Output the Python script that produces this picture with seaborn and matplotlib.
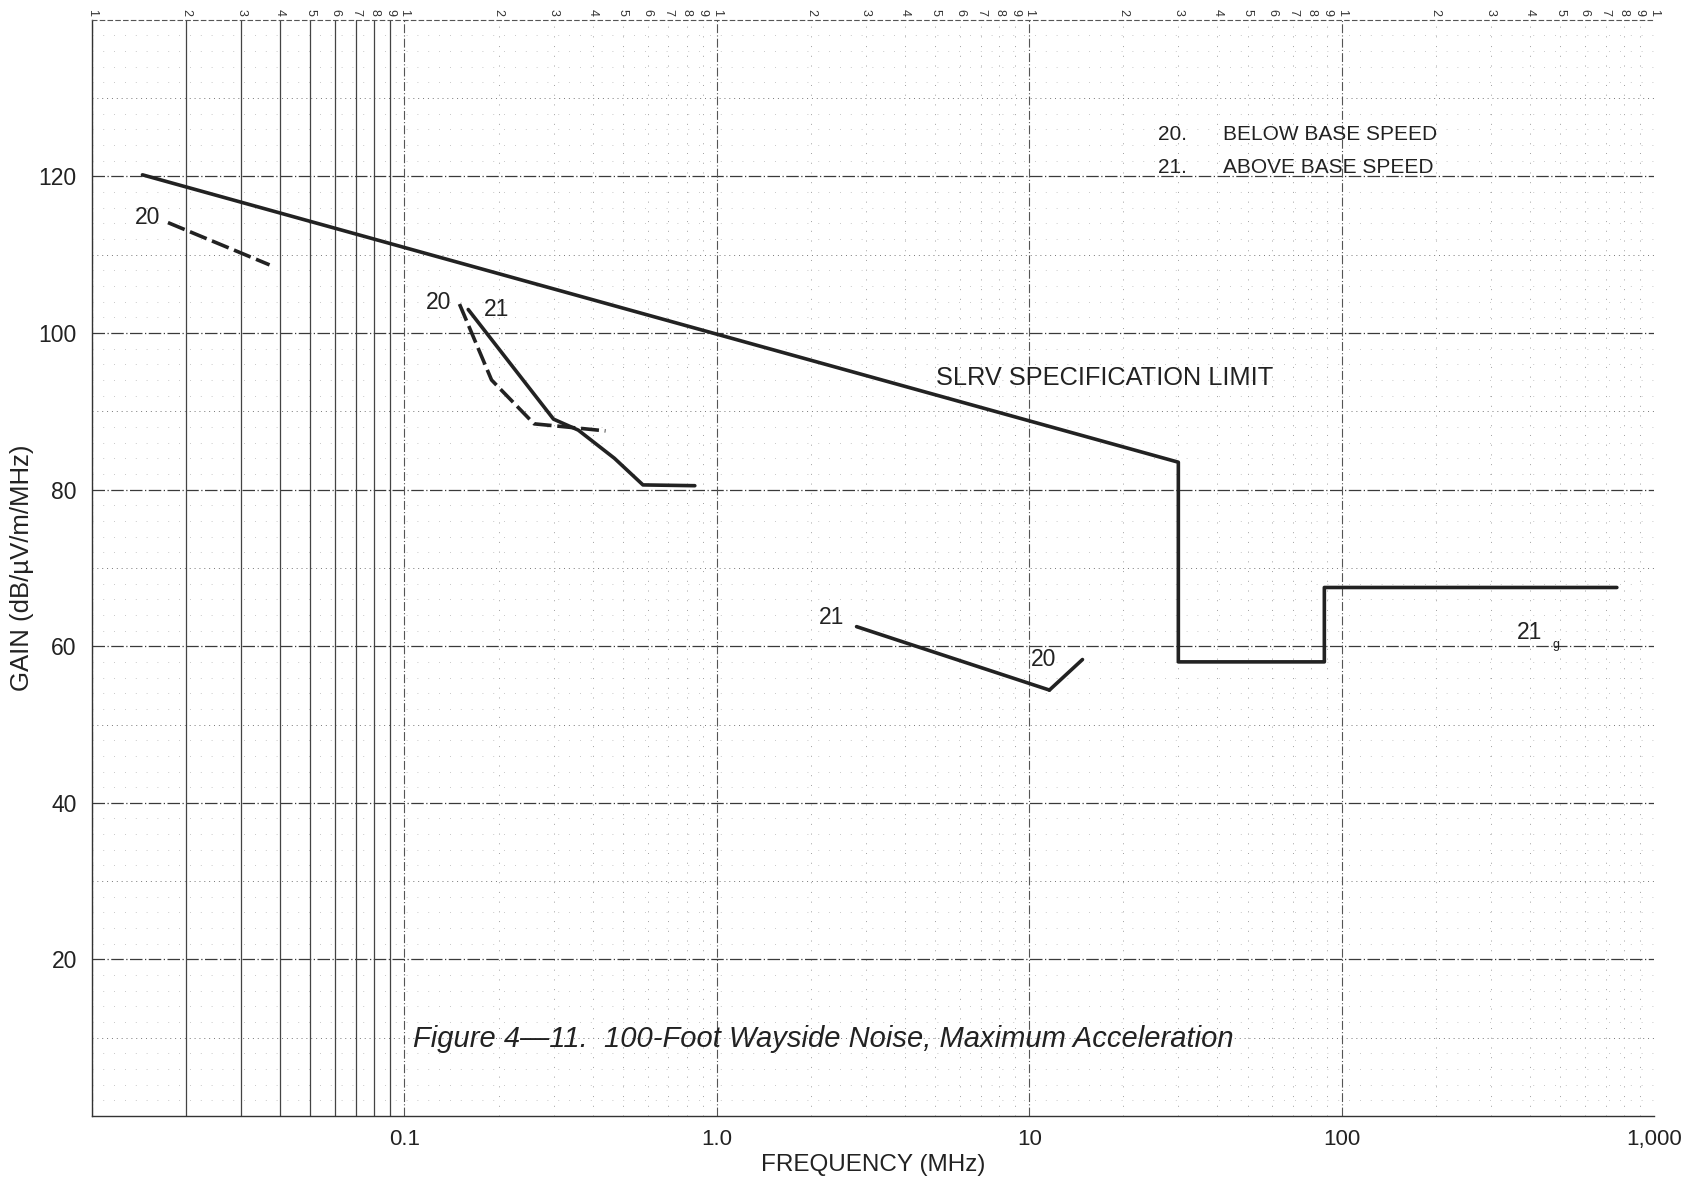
import matplotlib
matplotlib.use("Agg")
import matplotlib.pyplot as plt
import seaborn as sns
from matplotlib.ticker import NullFormatter, NullLocator

# values (frequency in MHz, gain in dB/uV/m/MHz)
spec_freq = [0.0145, 30, 30, 88, 88, 760]
spec_gain = [120.2, 83.5, 58.0, 58.0, 67.5, 67.5]

below_lf_freq = [0.0175, 0.037]          # curve 20, low frequency piece
below_lf_gain = [114.1, 108.7]

below_mid_freq = [0.15, 0.19, 0.26, 0.33, 0.44]    # curve 20, dashed
below_mid_gain = [103.7, 94.0, 88.4, 88.0, 87.5]

above_mid_freq = [0.16, 0.30, 0.36, 0.47, 0.58, 0.85]   # curve 21
above_mid_gain = [103.0, 89.0, 87.6, 84.0, 80.6, 80.5]

above_hf_freq = [2.8, 11.6]     # curve 21, HF
above_hf_gain = [62.5, 54.4]

below_hf_freq = [11.6, 14.8]    # curve 20, HF
below_hf_gain = [54.4, 58.3]

x_ticks = [0.1, 1, 10, 100, 1000]
x_ticklabels = ["0.1", "1.0", "10", "100", "1,000"]
y_ticks = [20, 40, 60, 80, 100, 120]
decades = [0.01, 0.1, 1, 10, 100]
digits = [1, 2, 3, 4, 5, 6, 7, 8, 9]

sns.set_theme(style="white")
plt.rcParams["font.family"] = ["Liberation Sans", "DejaVu Sans"]
narrow = ["Liberation Sans Narrow", "Liberation Sans", "DejaVu Sans"]
ink = "#222222"

fig = plt.figure(figsize=(16.92, 11.78), dpi=100)
ax = fig.add_axes([0.0544, 0.0526, 0.9232, 0.9306])
ax.set_xscale("log")
ax.set_xlim(0.01, 1000)
ax.set_ylim(0, 140)


## graph paper background
for g in range(2, 140, 2):
    if g % 10:
        ax.axhline(g, color="#b5b5b5", lw=0.6, ls=(0, (1, 12)), zorder=0)
for g in range(10, 140, 10):
    if g % 20 == 0:
        ax.axhline(g, color="#3a3a3a", lw=0.9, ls=(0, (10, 2, 1, 2)), zorder=0)
    else:
        ax.axhline(g, color="#777777", lw=0.7, ls=(0, (1, 4)), zorder=0)
for d in decades:
    for k in digits:
        f = d * k
        if k == 1:
            ax.axvline(f, color="#555555", lw=0.8, ls=(0, (8, 2, 1, 2)), zorder=0)
        elif d == 0.01:
            ax.axvline(f, color="#444444", lw=0.9, ls="-", zorder=0)
        else:
            ax.axvline(f, color="#a0a0a0", lw=0.7, ls=(0, (1, 9)), zorder=0)


## curves
def curve(fx, gy, dashed=False):
    sns.lineplot(x=fx, y=gy, ax=ax, estimator=None, sort=False, color=ink,
                 lw=2.6, legend=False, zorder=3)
    if dashed:
        ax.lines[-1].set_dashes((5, 1.6))

curve(spec_freq, spec_gain)
curve(below_lf_freq, below_lf_gain, dashed=True)
curve(below_mid_freq, below_mid_gain, dashed=True)
curve(above_mid_freq, above_mid_gain)
curve(above_hf_freq, above_hf_gain)
curve(below_hf_freq, below_hf_gain)


## labels on the chart
lab = dict(fontsize=16.5, color=ink, ha="center", va="center")
ax.text(0.0151, 114.7, "20", **lab)
ax.text(0.1286, 103.9, "20", **lab)
ax.text(0.197, 103.0, "21", **lab)
ax.text(2.33, 63.7, "21", **lab)
ax.text(11.1, 58.3, "20", **lab)
ax.text(400, 61.8, "21", **lab)
ax.text(486, 60.2, "g", fontsize=9, color=ink, ha="center", va="center")
ax.text(17.4, 94.2, "SLRV SPECIFICATION LIMIT", fontsize=18.3, color=ink,
        ha="center", va="center")

leg = dict(fontsize=15, color=ink, ha="left", va="center")
ax.text(25.8, 125.3, "20.", **leg)
ax.text(41.7, 125.3, "BELOW BASE SPEED", **leg)
ax.text(25.8, 121.2, "21.", **leg)
ax.text(41.7, 121.2, "ABOVE BASE SPEED", **leg)

fig.text(413 / 1692, 1 - 1039 / 1178,
         "Figure 4\u201411.  100-Foot Wayside Noise, Maximum Acceleration",
         fontsize=21, style="italic", family=narrow, color=ink,
         ha="left", va="center")


## axes, ticks
ax.set_xticks(x_ticks)
ax.set_xticklabels(x_ticklabels, family=narrow)
ax.xaxis.set_minor_locator(NullLocator())
ax.xaxis.set_minor_formatter(NullFormatter())
ax.set_yticks(y_ticks)
ax.tick_params(axis="x", length=0, pad=9, labelsize=16, colors=ink)
ax.tick_params(axis="y", length=0, pad=11, labelsize=16.5, colors=ink)

ax.set_xlabel("FREQUENCY (MHz)", fontsize=17.5, family=narrow, color=ink, labelpad=3)
ax.set_ylabel("GAIN (dB/\u00b5V/m/MHz)", fontsize=18.5, color=ink, labelpad=3)

for s in ["left", "bottom"]:
    ax.spines[s].set_color("#333333")
    ax.spines[s].set_linewidth(1.0)
ax.spines["top"].set_color("#555555")
ax.spines["top"].set_linestyle((0, (4, 3)))
ax.spines["top"].set_linewidth(0.8)
ax.spines["right"].set_visible(False)

# little sideways cycle digits printed along the top of the log paper
top = ax.secondary_xaxis("top")
top_ticks = [d * k for d in decades for k in digits] + [1000]
top_labels = [str(k) for d in decades for k in digits] + ["1"]
top.set_xticks(top_ticks, labels=top_labels)
top.xaxis.set_minor_locator(NullLocator())
top.tick_params(length=0, pad=3, labelsize=9, labelrotation=-90, colors="#333333")
top.spines["top"].set_visible(False)

fig.savefig("out.png", dpi=100)
